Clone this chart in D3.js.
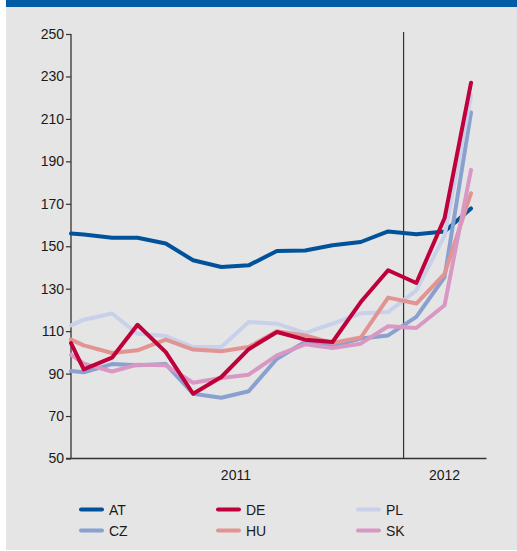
<!DOCTYPE html>
<html>
<head>
<meta charset="utf-8">
<script src="https://cdn.jsdelivr.net/npm/d3@7"></script>
<style>
  body { margin: 0; background: #fff; }
  svg text { font-family: "Liberation Sans", Arial, sans-serif; fill: #1a1a1a; }
</style>
</head>
<body>
<svg id="chart" width="517" height="551"></svg>
<script>
// first point sits on the y axis, the rest are mid-month values Jan 2011 .. Mar 2012
const dates = ['2011-01-01', '2011-01-15', '2011-02-15', '2011-03-15', '2011-04-15', '2011-05-15',
  '2011-06-15', '2011-07-15', '2011-08-15', '2011-09-15', '2011-10-15', '2011-11-15',
  '2011-12-15', '2012-01-15', '2012-02-15', '2012-03-15']

const countries = ['AT', 'CZ', 'DE', 'HU', 'PL', 'SK']
const colors = ['#00539b', '#8aa0cf', '#c0003b', '#e29492', '#c9d0ea', '#d898c3']

const AT = [156, 155.5, 154, 154, 151.3, 143.4, 140.2, 141, 147.8, 148, 150.5, 152, 157, 155.7, 157, 167.8]
const CZ = [91.2, 90.6, 94.5, 93.9, 94.5, 80.5, 78.6, 81.7, 97, 105, 103, 106.5, 108, 116.7, 135.5, 213]
const DE = [104.4, 92, 97.5, 113, 100.1, 80.5, 88.4, 101.5, 109.6, 106, 104.9, 123.7, 138.7, 132.7, 163.3, 227]
const HU = [106, 103.3, 99.7, 101, 106, 101.3, 100.5, 102.5, 110, 108, 104.4, 107, 125.8, 123, 137, 175]
const PL = [112.7, 115.4, 118.3, 108.8, 107.7, 102.5, 102.5, 114.3, 113.5, 109.1, 113.5, 118.4, 119, 129.2, 155, 221]
const SK = [98.9, 94.7, 91, 94.2, 93.9, 85.7, 87.9, 89.5, 98.6, 103.8, 102, 104.1, 112.3, 111.5, 122.2, 186]

const yTicks = [50, 70, 90, 110, 130, 150, 170, 190, 210, 230, 250]
const years = [{label: '2011', date: '2011-07-01'}, {label: '2012', date: '2012-02-15'}]
const yearBreak = '2012-01-01'

const series = {AT, CZ, DE, HU, PL, SK}
// drawing order, bottom to top
const drawOrder = ['AT', 'CZ', 'PL', 'HU', 'SK', 'DE']

const parse = d3.timeParse('%Y-%m-%d')

const svg = d3.select('#chart')

// panel + header band
svg.append('rect').attr('x', 6).attr('y', 0).attr('width', 511).attr('height', 550).attr('fill', '#e5e5e5')
svg.append('rect').attr('x', 6).attr('y', 0).attr('width', 511).attr('height', 7).attr('fill', '#005ba4')

const x = d3.scaleTime()
  .domain([parse('2011-01-01'), parse('2012-04-01')])
  .range([71, 486.5])

const y = d3.scaleLinear()
  .domain([50, 250])
  .range([458.5, 34])

// y axis
const yAxis = svg.append('g').attr('transform', 'translate(71,0)')
  .call(d3.axisLeft(y).tickValues(yTicks).tickSize(5).tickPadding(2).tickFormat(d3.format('d')))
yAxis.select('.domain').attr('d', `M0,${y(250)}V${y(50)}`).attr('stroke', '#333').attr('stroke-width', 1.3)
yAxis.selectAll('.tick line').attr('stroke', '#333').attr('stroke-width', 1.2)
yAxis.selectAll('.tick text').style('font-size', '14px').attr('fill', '#1a1a1a')

// x axis line
svg.append('line')
  .attr('x1', 66).attr('x2', x.range()[1])
  .attr('y1', y(50)).attr('y2', y(50))
  .attr('stroke', '#333').attr('stroke-width', 1.3)

svg.append('line')
  .attr('x1', x(parse(yearBreak))).attr('x2', x(parse(yearBreak)))
  .attr('y1', 32).attr('y2', y(50))
  .attr('stroke', '#333').attr('stroke-width', 1.2)

svg.selectAll('.year').data(years).enter()
  .append('text')
  .attr('class', 'year')
  .attr('x', d => x(parse(d.date)))
  .attr('y', 480)
  .attr('text-anchor', 'middle')
  .style('font-size', '14px')
  .text(d => d.label)

const line = d3.line()
  .x((d, i) => x(parse(dates[i])))
  .y(d => y(d))

drawOrder.forEach(code => {
  svg.append('path')
    .datum(series[code])
    .attr('fill', 'none')
    .attr('stroke', colors[countries.indexOf(code)])
    .attr('stroke-width', 4)
    .attr('stroke-linejoin', 'round')
    .attr('stroke-linecap', 'round')
    .attr('d', line)
})

// legend, 3 columns x 2 rows
const legendCols = [81, 218, 358]
const legendRows = [509.5, 530.5]

const leg = svg.selectAll('.leg').data(countries).enter()
  .append('g')
  .attr('class', 'leg')
  .attr('transform', (d, i) => `translate(${legendCols[Math.floor(i / 2)]},${legendRows[i % 2]})`)

leg.append('line')
  .attr('x1', 0).attr('x2', 21)
  .attr('stroke', (d, i) => colors[i])
  .attr('stroke-width', 4)
  .attr('stroke-linecap', 'round')

leg.append('text')
  .attr('x', 28)
  .attr('y', 5)
  .style('font-size', '14px')
  .text(d => d)
</script>
</body>
</html>
